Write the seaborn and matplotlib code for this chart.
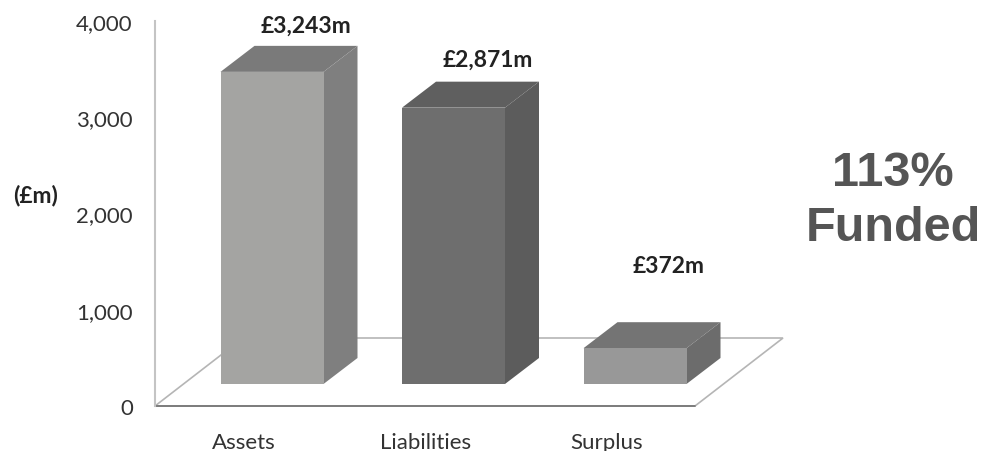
import matplotlib
matplotlib.use('Agg')
import matplotlib.pyplot as plt
from matplotlib.patches import Polygon
import pandas as pd
import seaborn as sns

categories = ['Assets', 'Liabilities', 'Surplus']
values = [3243, 2871, 372]
value_labels = ['£3,243m', '£2,871m', '£372m']
y_ticks = [0, 1000, 2000, 3000, 4000]
y_tick_labels = ['0', '1,000', '2,000', '3,000', '4,000']

front_cols = ['#a4a4a2', '#6e6e6e', '#989898']
side_cols = ['#7f7f7f', '#5c5c5c', '#6c6c6c']
top_cols = ['#7a7a7a', '#5f5f5f', '#747474']

sns.set_theme(style='white')
plt.rcParams['font.family'] = ['Lato', 'DejaVu Sans']

W, H = 987, 452
fig = plt.figure(figsize=(W / 100, H / 100), dpi=100)
ax = fig.add_axes([155 / W, (H - 407) / H, 540 / W, 385 / H])

# px per unit on each axis, the 3d look is just offsets from these
px_x = 181.5
px_y = 385 / 4000
bar_w = 103 / px_x
base = 22 / px_y
dep_x = 34 / px_x
dep_y = 26 / px_y
floor_x = 88 / px_x
floor_y = 68 / px_y
label_gap = [21, 22, 57]

df = pd.DataFrame({'cat': categories, 'val': values})
sns.barplot(data=df, x='cat', y='val', hue='cat', palette=front_cols, dodge=False,
            width=bar_w, bottom=base, legend=False, saturation=1, linewidth=0, ax=ax, zorder=3)

x0 = -117 / px_x
x1 = x0 + 540 / px_x
ax.set_xlim(x0, x1)
ax.set_ylim(0, 4000)

# floor
ax.add_patch(Polygon([(x0, 0), (x1, 0), (x1 + floor_x, floor_y), (x0 + floor_x, floor_y)],
                     closed=True, fc='white', ec='#b5b5b5', lw=1.2, clip_on=False, zorder=1))

for i, v in enumerate(values):
    l = i - bar_w / 2
    r = i + bar_w / 2
    t = base + v
    ax.add_patch(Polygon([(l, t), (r, t), (r + dep_x, t + dep_y), (l + dep_x, t + dep_y)],
                         closed=True, fc=top_cols[i], ec='none', clip_on=False, zorder=2))
    ax.add_patch(Polygon([(r, base), (r + dep_x, base + dep_y), (r + dep_x, t + dep_y), (r, t)],
                         closed=True, fc=side_cols[i], ec='none', clip_on=False, zorder=2))
    ax.annotate(value_labels[i], (i + dep_x, t + dep_y), xytext=(0, label_gap[i]),
                textcoords='offset pixels', ha='center', va='center', fontsize=16.5,
                fontweight='bold', color='#222222', annotation_clip=False)

sns.despine(ax=ax, bottom=True)
ax.spines['left'].set_color('#c4c4c4')
ax.spines['left'].set_linewidth(1.5)
ax.plot([x0, x1], [0, 0], color='#777777', lw=1.3, clip_on=False, zorder=2)

ax.set_xlabel('')
ax.set_ylabel('')
ax.set_xticks([i - 28 / px_x for i in range(3)])
ax.set_xticklabels(categories, fontsize=16, color='#333333')
ax.set_yticks(y_ticks)
ax.set_yticklabels(y_tick_labels, fontsize=16, color='#333333')
ax.tick_params(axis='x', length=0, pad=18.5)
ax.tick_params(axis='y', length=0, pad=16)

fig.text(36 / W, 1 - 196 / H, '(£m)', ha='center', va='center', fontsize=16.5,
         fontweight='bold', color='#222222')
fig.text(893 / W, 1 - 201 / H, '113%\nFunded', ha='center', va='center', fontsize=35,
         fontweight='bold', color='#555555', family=['Liberation Sans'], linespacing=1.27)

fig.savefig('out.png', dpi=100, facecolor='white')
